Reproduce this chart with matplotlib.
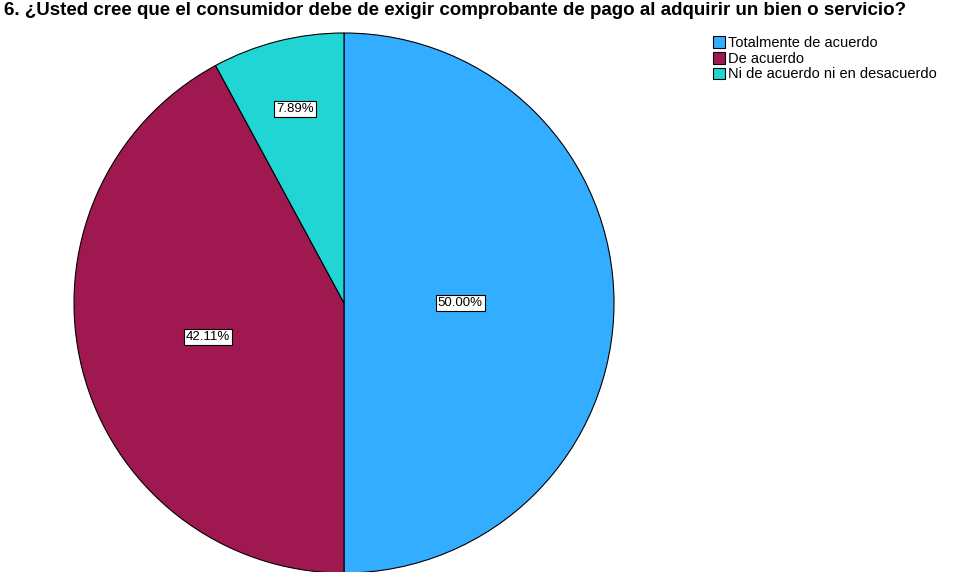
import numpy as np
import matplotlib.pyplot as plt
from matplotlib.patches import Patch

title = "6. ¿Usted cree que el consumidor debe de exigir comprobante de pago al adquirir un bien o servicio?"
categories = ["Totalmente de acuerdo", "De acuerdo", "Ni de acuerdo ni en desacuerdo"]
percentages = [50.00, 42.11, 7.89]
colors = ["#33adff", "#9f1850", "#21d5d5"]
label_radius = [0.43, 0.52, 0.74]

plt.rcParams["font.family"] = ["Liberation Sans", "DejaVu Sans"]

W, H = 956, 572
fig = plt.figure(figsize=(W / 100, H / 100), dpi=100)
cx, cy, r = 344, 303, 270
ax = fig.add_axes([(cx - r) / W, (H - cy - r) / H, 2 * r / W, 2 * r / H])

wedges, _ = ax.pie(
    percentages,
    colors=colors,
    startangle=90,
    counterclock=False,
    radius=1.0,
    wedgeprops=dict(edgecolor="black", linewidth=0.8),
)
for w, pct, rr in zip(wedges, percentages, label_radius):
    mid = np.deg2rad((w.theta1 + w.theta2) / 2)
    ax.text(rr * np.cos(mid), rr * np.sin(mid), f"{pct:.2f}%",
            ha="center", va="center", fontsize=9.5,
            bbox=dict(boxstyle="square,pad=0.15", fc="white", ec="black", lw=0.8))
ax.set_xlim(-1, 1)
ax.set_ylim(-1, 1)
ax.set_aspect("auto")
ax.axis("off")

fig.text(4 / W, 1 - 2 / H, title, ha="left", va="top",
         fontsize=13.5, fontweight="bold")

handles = [Patch(facecolor=c, edgecolor="black", linewidth=0.8) for c in colors]
fig.legend(handles, categories, loc="upper left", bbox_to_anchor=(713 / W, 1 - 36 / H),
           frameon=False, fontsize=10.5, handlelength=0.85, handleheight=0.85,
           handletextpad=0.15, labelspacing=0.12, borderaxespad=0, borderpad=0)

fig.savefig("out.png", dpi=100)
